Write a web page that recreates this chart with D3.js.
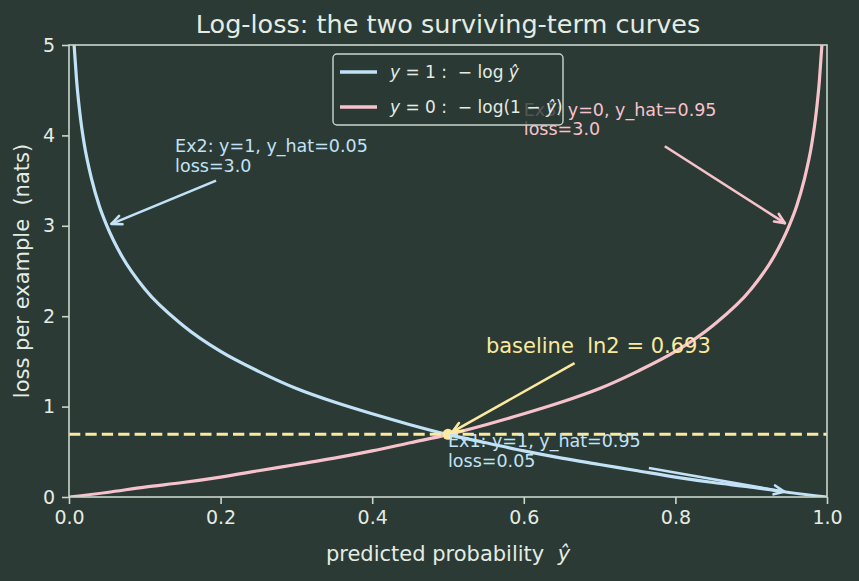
<!DOCTYPE html>
<html>
<head>
<meta charset="utf-8">
<script src="https://cdn.jsdelivr.net/npm/d3@7"></script>
<style>
  body { margin: 0; background: #2b3a34; }
  svg text { font-family: "DejaVu Sans", sans-serif; white-space: pre; }
</style>
</head>
<body>
<div id="chart"></div>
<script>
// Data
const yHatPos = [0.0067, 0.01, 0.015, 0.02, 0.03, 0.04, 0.05, 0.07, 0.1, 0.15, 0.2, 0.25, 0.3, 0.35, 0.4, 0.45, 0.5, 0.55, 0.6, 0.65, 0.7, 0.75, 0.8, 0.85, 0.9, 0.95, 1.0];
const lossPos = [5.0, 4.61, 4.20, 3.91, 3.51, 3.22, 3.00, 2.66, 2.30, 1.90, 1.61, 1.39, 1.20, 1.05, 0.92, 0.80, 0.69, 0.60, 0.51, 0.43, 0.36, 0.29, 0.22, 0.16, 0.11, 0.05, 0.0];
const yHatNeg = [0.0, 0.05, 0.1, 0.15, 0.2, 0.25, 0.3, 0.35, 0.4, 0.45, 0.5, 0.55, 0.6, 0.65, 0.7, 0.75, 0.8, 0.85, 0.9, 0.93, 0.95, 0.96, 0.97, 0.98, 0.985, 0.99, 0.9933];
const lossNeg = [0.0, 0.05, 0.11, 0.16, 0.22, 0.29, 0.36, 0.43, 0.51, 0.60, 0.69, 0.80, 0.92, 1.05, 1.20, 1.39, 1.61, 1.90, 2.30, 2.66, 3.00, 3.22, 3.51, 3.91, 4.20, 4.61, 5.0];
const baseline = 0.693;
const xTicks = [0.0, 0.2, 0.4, 0.6, 0.8, 1.0];
const yTicks = [0, 1, 2, 3, 4, 5];

// annotations: label lines, text anchor (data, last line baseline), arrow start, arrow target
const notes = [
  { lines: ["Ex2: y=1, y_hat=0.05", "loss=3.0"], text: [0.14, 3.6], from: [0.194, 3.5], to: [0.05, 3.0], color: "#c2e2f7", size: 17.5 },
  { lines: ["Ex3: y=0, y_hat=0.95", "loss=3.0"], text: [0.60, 4.0], from: [0.786, 3.88], to: [0.95, 3.0], color: "#f8c2cc", size: 17.5 },
  { lines: ["Ex1: y=1, y_hat=0.95", "loss=0.05"], text: [0.50, 0.335], from: [0.765, 0.32], to: [0.95, 0.05], color: "#c2e2f7", size: 17.5 },
  { lines: ["baseline  ln2 = 0.693"], text: [0.55, 1.59], from: [0.667, 1.48], to: [0.5, 0.693], color: "#fbe9a0", size: 21 }
];

const W = 859, H = 581;
const margin = { top: 45, right: 32, bottom: 84, left: 69 };
const width = W - margin.left - margin.right;
const height = H - margin.top - margin.bottom;

const bg = "#2b3a34";
const fg = "#e4ece4";
const spine = "#c9d6cc";
const blue = "#c2e2f7";
const pink = "#f8c2cc";
const yellow = "#fbe9a0";

const svg = d3.select("#chart")
  .append("svg")
  .attr("width", W)
  .attr("height", H);

svg.append("rect").attr("width", W).attr("height", H).attr("fill", bg);

const g = svg.append("g")
  .attr("transform", `translate(${margin.left},${margin.top})`);

const x = d3.scaleLinear().domain([0, 1]).range([0, width]);
const y = d3.scaleLinear().domain([0, 5]).range([height, 0]);

g.append("clipPath").attr("id", "clip")
  .append("rect").attr("width", width).attr("height", height);

// Curves
const line = d3.line()
  .x(d => x(d[0]))
  .y(d => y(d[1]))
  .curve(d3.curveMonotoneX);

g.append("path")
  .datum(d3.zip(yHatPos, lossPos))
  .attr("clip-path", "url(#clip)")
  .attr("fill", "none")
  .attr("stroke", blue)
  .attr("stroke-width", 3.2)
  .attr("d", line);

g.append("path")
  .datum(d3.zip(yHatNeg, lossNeg))
  .attr("clip-path", "url(#clip)")
  .attr("fill", "none")
  .attr("stroke", pink)
  .attr("stroke-width", 3.2)
  .attr("d", line);

// Baseline dashed line
g.append("line")
  .attr("x1", x(0)).attr("x2", x(1))
  .attr("y1", y(baseline)).attr("y2", y(baseline))
  .attr("stroke", yellow)
  .attr("stroke-width", 3)
  .attr("stroke-dasharray", "11.3,5.1");

g.append("circle")
  .attr("cx", x(0.5)).attr("cy", y(baseline))
  .attr("r", 5.5)
  .attr("fill", yellow);

// Axes
const xAxis = g.append("g")
  .attr("transform", `translate(0,${height})`)
  .call(d3.axisBottom(x).tickValues(xTicks).tickFormat(d3.format(".1f")).tickSize(7).tickPadding(7));
const yAxis = g.append("g")
  .call(d3.axisLeft(y).tickValues(yTicks).tickFormat(d3.format("d")).tickSize(7).tickPadding(7));

[xAxis, yAxis].forEach(a => {
  a.select(".domain").remove();
  a.selectAll("line").attr("stroke", spine).attr("stroke-width", 1.6);
  a.selectAll("text").attr("fill", fg).style("font-size", "19px").style("font-family", "DejaVu Sans");
});

g.append("rect")
  .attr("width", width).attr("height", height)
  .attr("fill", "none")
  .attr("stroke", spine)
  .attr("stroke-width", 1.6);

// Annotations
function arrow(p0, p1, color) {
  let x0 = x(p0[0]), y0 = y(p0[1]), x1 = x(p1[0]), y1 = y(p1[1]);
  const ang = Math.atan2(y1 - y0, x1 - x0);
  x1 -= 5 * Math.cos(ang); y1 -= 5 * Math.sin(ang);
  g.append("line")
    .attr("x1", x0).attr("y1", y0).attr("x2", x1).attr("y2", y1)
    .attr("stroke", color).attr("stroke-width", 2.6);
  [-1, 1].forEach(s => {
    const a = ang + Math.PI + s * 0.42;
    g.append("line")
      .attr("x1", x1).attr("y1", y1)
      .attr("x2", x1 + 11 * Math.cos(a)).attr("y2", y1 + 11 * Math.sin(a))
      .attr("stroke", color).attr("stroke-width", 2.6)
      .attr("stroke-linecap", "round");
  });
}

notes.forEach(n => {
  const lh = n.size * 1.13;
  const t = g.append("text")
    .attr("x", x(n.text[0]))
    .attr("y", y(n.text[1]) - (n.lines.length - 1) * lh)
    .attr("fill", n.color)
    .style("font-size", n.size + "px");
  n.lines.forEach((s, i) => {
    t.append("tspan")
      .attr("x", x(n.text[0]))
      .attr("dy", i === 0 ? 0 : lh)
      .text(s);
  });
  arrow(n.from, n.to, n.color);
});

// Legend
const leg = svg.append("g").attr("transform", "translate(333,54)");
leg.append("rect")
  .attr("width", 230).attr("height", 71)
  .attr("rx", 4)
  .attr("fill", bg).attr("fill-opacity", 0.8)
  .attr("stroke", spine).attr("stroke-width", 1.4);

const legendItems = [
  { color: blue, parts: [["y", true], [" = 1 :  − log ", false], ["ŷ", true]] },
  { color: pink, parts: [["y", true], [" = 0 :  − log(1 − ", false], ["ŷ", true], [")", false]] }
];
legendItems.forEach((item, i) => {
  const ly = 18 + i * 35;
  leg.append("line")
    .attr("x1", 7).attr("x2", 44)
    .attr("y1", ly).attr("y2", ly)
    .attr("stroke", item.color).attr("stroke-width", 3.3);
  const t = leg.append("text")
    .attr("x", 57).attr("y", ly + 6)
    .attr("fill", fg)
    .style("font-size", "17px");
  item.parts.forEach(p => {
    t.append("tspan").style("font-style", p[1] ? "italic" : "normal").text(p[0]);
  });
});

// Labels
svg.append("text")
  .attr("x", margin.left + width / 2).attr("y", 33)
  .attr("text-anchor", "middle")
  .attr("fill", fg)
  .style("font-size", "25.5px")
  .text("Log-loss: the two surviving-term curves");

const xl = svg.append("text")
  .attr("x", margin.left + width / 2).attr("y", 561)
  .attr("text-anchor", "middle")
  .attr("fill", fg)
  .style("font-size", "21px");
xl.append("tspan").text("predicted probability  ");
xl.append("tspan").style("font-style", "italic").text("ŷ");

svg.append("text")
  .attr("transform", `translate(29,${margin.top + height / 2}) rotate(-90)`)
  .attr("text-anchor", "middle")
  .attr("fill", fg)
  .style("font-size", "21px")
  .text("loss per example  (nats)");
</script>
</body>
</html>
